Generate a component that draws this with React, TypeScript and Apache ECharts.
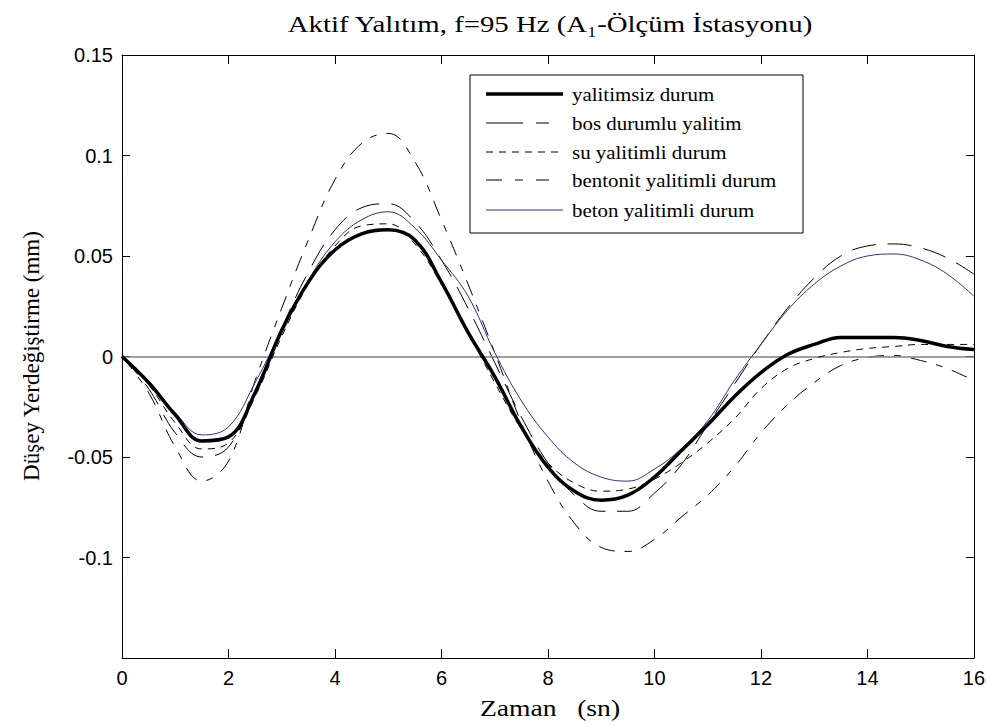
import React, { useEffect, useRef } from "react";
import * as echarts from "echarts";

// Time axis (sn)
const TIME = [
  0, 0.5, 1, 1.5, 2, 2.5, 3, 3.5, 4, 4.5, 5, 5.5, 6, 6.5, 7, 7.5, 8, 8.5, 9, 9.5,
  10, 10.5, 11, 11.5, 12, 12.5, 13, 13.5, 14, 14.5, 15, 15.5, 16,
];

// Düşey yerdeğiştirme (mm)
const YALITIMSIZ = [
  0, -0.013, -0.029, -0.042, -0.04, -0.018, 0.013, 0.037, 0.053, 0.061, 0.063, 0.058,
  0.037, 0.012, -0.01, -0.035, -0.055, -0.067, -0.0715, -0.069, -0.06, -0.047, -0.034,
  -0.02, -0.008, 0.001, 0.006, 0.0095, 0.0095, 0.0095, 0.008, 0.005, 0.0035,
];
const BOS = [
  0, -0.016, -0.038, -0.05, -0.045, -0.017, 0.014, 0.042, 0.063, 0.074, 0.076, 0.067,
  0.048, 0.024, -0.003, -0.03, -0.053, -0.069, -0.077, -0.077, -0.068, -0.054, -0.034,
  -0.014, 0.006, 0.024, 0.039, 0.05, 0.055, 0.056, 0.054, 0.049, 0.041,
];
const SU = [
  0, -0.014, -0.033, -0.046, -0.043, -0.02, 0.01, 0.036, 0.055, 0.065, 0.066, 0.056,
  0.036, 0.012, -0.013, -0.036, -0.053, -0.063, -0.067, -0.066, -0.061, -0.053, -0.043,
  -0.031, -0.016, -0.006, -0.001, 0.002, 0.004, 0.005, 0.006, 0.006, 0.006,
];
const BENTONIT = [
  0, -0.018, -0.045, -0.062, -0.052, -0.012, 0.024, 0.058, 0.088, 0.106, 0.111, 0.097,
  0.068, 0.036, 0.002, -0.033, -0.062, -0.083, -0.095, -0.097, -0.091, -0.08, -0.069,
  -0.055, -0.038, -0.024, -0.013, -0.0045, -0.0005, 0.0005, -0.002, -0.006, -0.012,
];
const BETON = [
  0, -0.012, -0.028, -0.039, -0.035, -0.013, 0.013, 0.038, 0.057, 0.068, 0.072, 0.064,
  0.048, 0.03, 0.002, -0.022, -0.04, -0.053, -0.06, -0.062, -0.056, -0.046, -0.032,
  -0.012, 0.006, 0.023, 0.036, 0.045, 0.05, 0.051, 0.048, 0.041, 0.03,
];

const X_TICKS = { min: 0, max: 16, interval: 2 };
const Y_TICKS = { min: -0.15, max: 0.15, interval: 0.05 };

const TITLE = "Aktif Yalıtım, f=95 Hz (A₁-Ölçüm İstasyonu)";
const X_NAME = "Zaman   (sn)";
const Y_NAME = "Düşey Yerdeğiştirme (mm)";

const SERIES_NAMES = [
  "yalitimsiz durum",
  "bos durumlu yalitim",
  "su yalitimli durum",
  "bentonit yalitimli durum",
  "beton yalitimli durum",
];

const BLUE = "#2e2e8a";
const SERIF = "'Liberation Serif', 'Times New Roman', serif";
const SANS = "'Liberation Sans', Arial, sans-serif";

const STYLES: Record<
  string,
  { color: string; width: number; dash: number[] | null; legendDash: number[] | null }
> = {
  "yalitimsiz durum": { color: "#000", width: 3.5, dash: null, legendDash: null },
  "bos durumlu yalitim": { color: "#000", width: 1, dash: [24, 12], legendDash: [37, 13, 13, 14] },
  "su yalitimli durum": { color: "#000", width: 1, dash: [7, 6], legendDash: [7, 6] },
  "bentonit yalitimli durum": {
    color: "#000",
    width: 1,
    dash: [16, 10, 7, 10],
    legendDash: [16, 13, 8, 13, 13, 14],
  },
  "beton yalitimli durum": { color: BLUE, width: 1, dash: null, legendDash: null },
};

const VALUES: Record<string, number[]> = {
  "yalitimsiz durum": YALITIMSIZ,
  "bos durumlu yalitim": BOS,
  "su yalitimli durum": SU,
  "bentonit yalitimli durum": BENTONIT,
  "beton yalitimli durum": BETON,
};

const DRAW_ORDER = [
  "bentonit yalitimli durum",
  "bos durumlu yalitim",
  "su yalitimli durum",
  "beton yalitimli durum",
  "yalitimsiz durum",
];

function buildOption() {
  const series: any[] = DRAW_ORDER.map((name, i) => {
    const st = STYLES[name];
    const s: any = {
      name,
      type: "line",
      data: TIME.map((t, k) => [t, VALUES[name][k]]),
      showSymbol: false,
      symbol: "none",
      smooth: 0.4,
      lineStyle: {
        color: st.color,
        width: st.width,
        type: st.dash ? st.dash : "solid",
      },
      itemStyle: { color: st.color },
      z: 3 + i,
      silent: true,
    };
    if (i === 0) {
      s.markLine = {
        silent: true,
        symbol: ["none", "none"],
        label: { show: false },
        lineStyle: { color: "#7f7f7f", width: 1.5, type: "solid" },
        data: [{ yAxis: 0 }],
      };
    }
    return s;
  });

  const legendX = 470;
  const legendY = 75;
  const rowYs = [94, 123, 152, 180, 210];
  const legendEls: any[] = [
    {
      type: "rect",
      shape: { x: legendX, y: legendY, width: 333, height: 158 },
      style: { fill: "#fff", stroke: "#000", lineWidth: 1 },
      z: 100,
    },
  ];
  SERIES_NAMES.forEach((name, i) => {
    const st = STYLES[name];
    legendEls.push({
      type: "line",
      shape: { x1: 486, y1: rowYs[i], x2: 563, y2: rowYs[i] },
      style: {
        stroke: st.color,
        lineWidth: st.width,
        lineDash: st.legendDash || undefined,
      },
      z: 101,
    });
    legendEls.push({
      type: "text",
      x: 572,
      y: rowYs[i],
      scaleX: 1.1,
      style: {
        text: name,
        fill: "#000",
        fontSize: 19,
        fontFamily: SERIF,
        align: "left",
        verticalAlign: "middle",
      },
      z: 101,
    });
  });

  return {
    animation: false,
    backgroundColor: "#fff",
    grid: { left: 122, right: 11, top: 55, bottom: 68, containLabel: false },
    xAxis: [
      {
        type: "value",
        position: "bottom",
        ...X_TICKS,
        axisLine: { show: true, onZero: false, lineStyle: { color: "#000", width: 1 } },
        axisTick: { show: true, inside: true, length: 9, lineStyle: { color: "#000" } },
        axisLabel: { color: "#000", fontSize: 20, fontFamily: SANS, margin: 10 },
        splitLine: { show: false },
      },
      {
        type: "value",
        position: "top",
        ...X_TICKS,
        axisLine: { show: true, onZero: false, lineStyle: { color: "#000", width: 1 } },
        axisTick: { show: true, inside: true, length: 9, lineStyle: { color: "#000" } },
        axisLabel: { show: false },
        splitLine: { show: false },
      },
    ],
    yAxis: [
      {
        type: "value",
        position: "left",
        ...Y_TICKS,
        axisLine: { show: true, onZero: false, lineStyle: { color: "#000", width: 1 } },
        axisTick: { show: true, inside: true, length: 8, lineStyle: { color: "#000" } },
        axisLabel: {
          color: "#000",
          fontSize: 20,
          fontFamily: SANS,
          margin: 9,
          formatter: (v: number) => (v < -0.149 ? "" : String(+v.toFixed(2))),
        },
        splitLine: { show: false },
      },
      {
        type: "value",
        position: "right",
        ...Y_TICKS,
        axisLine: { show: true, onZero: false, lineStyle: { color: "#000", width: 1 } },
        axisTick: { show: true, inside: true, length: 8, lineStyle: { color: "#000" } },
        axisLabel: { show: false },
        splitLine: { show: false },
      },
    ],
    series,
    graphic: [
      {
        type: "text",
        x: 550,
        y: 24,
        scaleX: 1.2,
        style: {
          text: TITLE,
          fill: "#000",
          fontSize: 24,
          fontFamily: SERIF,
          align: "center",
          verticalAlign: "middle",
        },
      },
      {
        type: "text",
        x: 550,
        y: 708,
        scaleX: 1.2,
        style: {
          text: X_NAME,
          fill: "#000",
          fontSize: 23,
          fontFamily: SERIF,
          align: "center",
          verticalAlign: "middle",
        },
      },
      {
        type: "text",
        x: 31,
        y: 356,
        rotation: Math.PI / 2,
        style: {
          text: Y_NAME,
          fill: "#000",
          fontSize: 23,
          fontFamily: SERIF,
          align: "center",
          verticalAlign: "middle",
        },
      },
      ...legendEls,
    ],
  };
}

export default function App() {
  const ref = useRef<HTMLDivElement>(null);
  useEffect(() => {
    if (!ref.current) return;
    const chart = echarts.init(ref.current, null, { renderer: "svg" });
    chart.setOption(buildOption());
    return () => chart.dispose();
  }, []);
  return (
    <div
      ref={ref}
      style={{ position: "absolute", left: 0, top: 0, width: 988, height: 726 }}
    />
  );
}
